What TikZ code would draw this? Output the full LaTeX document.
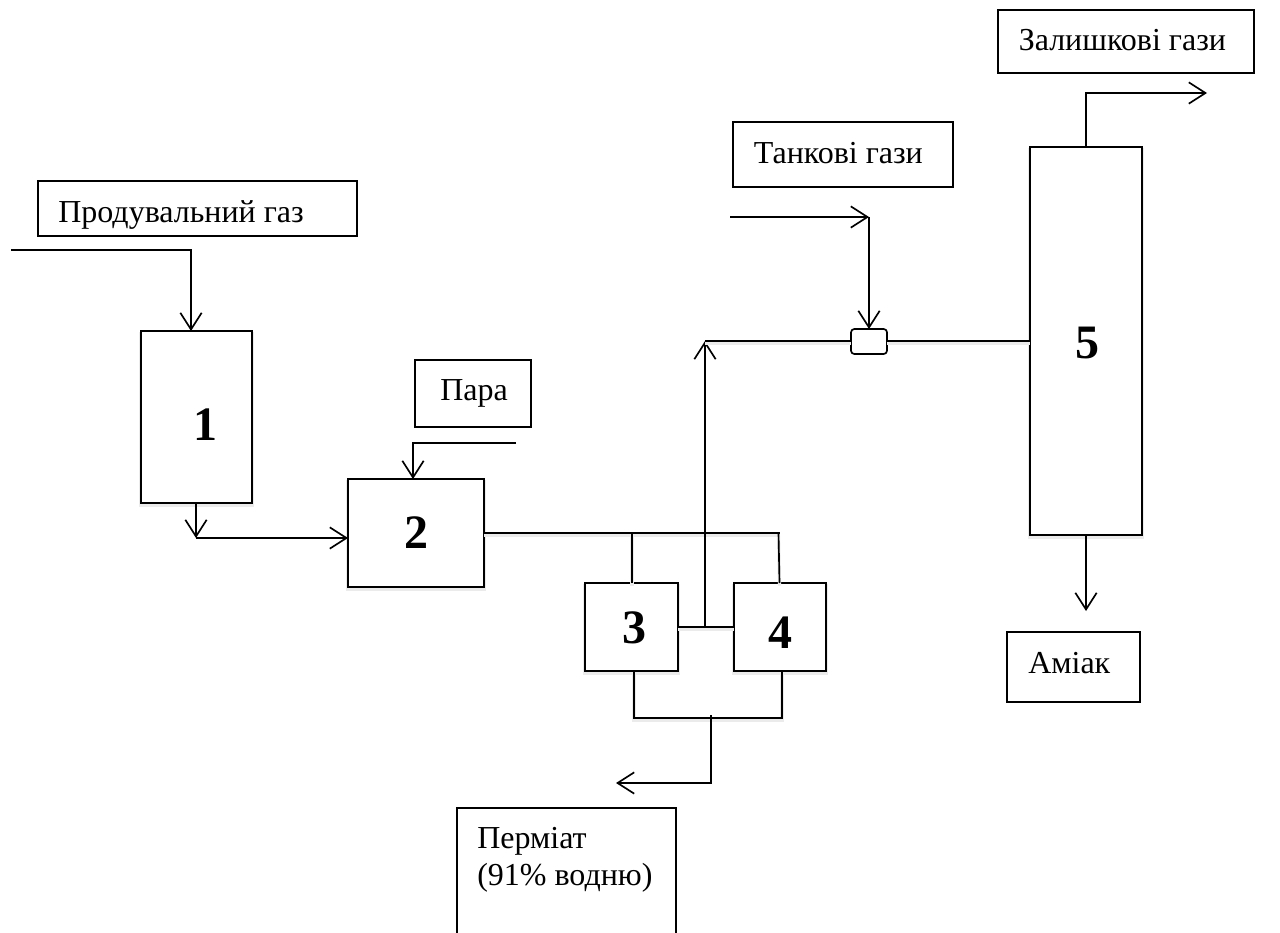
\documentclass[tikz,border=0pt]{standalone}
\usepackage{fontspec}
\setmainfont{Liberation Serif}
\usetikzlibrary{arrows.meta,fit}
\tikzset{
  x=0.75pt,y=-0.75pt,
  softshadow/.style={preaction={draw=black!8,line width=2.4pt,transform canvas={yshift=-2pt}}},
  box/.style={draw=black,line width=1.25pt,fill=white,inner sep=0pt,outer sep=0pt},
  unit/.style={box,softshadow},
  lbl/.style={anchor=base west,inner sep=0pt,font=\fontsize{24}{28}\selectfont},
  num/.style={anchor=center,inner sep=0pt,font=\fontsize{36}{40}\selectfont\bfseries},
  pipe/.style={draw=black,line width=1.25pt,line join=miter,softshadow},
  flow/.style={draw=black,line width=1.25pt,line join=miter,-{Straight Barb[length=12.5pt,width=16pt,line width=1.25pt]}}
}
\newcommand{\bx}[6][box]{\node[#1,fit={(#3,#4)(#5,#6)}] (#2) {};}
\begin{document}
\begin{tikzpicture}
\useasboundingbox (0,0) rectangle (1280,932);
\clip (0,0) rectangle (1280,932);
\fill[white] (0,0) rectangle (1280,932);
% boxes
\bx{bProd}{38}{181}{357}{236}
\bx{bPara}{415}{360}{531}{427}
\bx{bTank}{733}{122}{953}{187}
\bx{bRest}{998}{10}{1254}{73}
\bx{bAm}{1007}{632}{1140}{702}
\bx{bPerm}{457}{808}{676}{940}
\bx[unit]{b1}{141}{331}{252}{503}
\bx[unit]{b2}{348}{479}{484}{587}
\bx[unit]{b3}{585}{583}{678}{671}
\bx[unit]{b4}{734}{583}{826}{671}
\bx[unit]{b5}{1030}{147}{1142}{535}
\node[box,rounded corners=2.5pt,fit={(851,329)(887,354)}] (mix) {};
% coordinates
\coordinate (a) at (11,250);
\coordinate (a1) at (191,250);
\coordinate (c) at (196,538);
\coordinate (d) at (516,443);
\coordinate (d1) at (413,443);
\coordinate (m) at (780,533);
\coordinate (m3) at (632,533);
\coordinate (m4) at (778.5,533);
\coordinate (j) at (705,627);
\coordinate (t) at (705,341);
\coordinate (e) at (730,217);
\coordinate (e1) at (869,217);
\coordinate (g) at (1086,93);
\coordinate (g1) at (1207,93);
\coordinate (h) at (1086,611);
\coordinate (u3) at (634,718);
\coordinate (u4) at (782,718);
\coordinate (s) at (711,715);
\coordinate (s1) at (711,783);
\coordinate (s2) at (616,783);
% connectors
\draw[flow] (a) -- (a1) -- (a1 |- b1.north);
\draw[flow] (c |- b1.south) -- (c);
\draw[flow] (c) -- (c -| b2.west);
\draw[flow] (d) -- (d1) -- (d1 |- b2.north);
\draw[pipe] (b2.east |- m) -- (m);
\draw[pipe] (m3) -- (m3 |- b3.north);
\draw[pipe] (m4) -- (779.5,583);
\draw[pipe] (b3.east |- j) -- (b4.west |- j);
\draw[flow] (j) -- (t);
\draw[pipe] (t) -- (mix.west |- t);
\draw[pipe] (mix.east |- t) -- (b5.west |- t);
\draw[flow] (e) -- (e1);
\draw[flow] (e1) -- (e1 |- mix.north);
\draw[flow] (g |- b5.north) -- (g) -- (g1);
\draw[flow] (h |- b5.south) -- (h);
\draw[pipe] (u3 |- b3.south) -- (u3) -- (u4) -- (u4 |- b4.south);
\draw[flow] (s) -- (s1) -- (s2);
% labels
\node[lbl] (tProd) at (58,222) {Продувальний газ};
\node[lbl] (tPara) at (440,400) {Пара};
\node[lbl] (tTank) at (753.5,163) {Танкові гази};
\node[lbl] (tRest) at (1018.5,50) {Залишкові гази};
\node[lbl] (tAm) at (1028,673) {Аміак};
\node[lbl] (tPerm) at (477,848) {Перміат};
\node[lbl] (tPerm2) at (477,885) {(91\% водню)};
\node[num] (n1) at (205,425) {1};
\node[num] (n2) at (416,533) {2};
\node[num] (n3) at (634,628) {3};
\node[num] (n4) at (780,633) {4};
\node[num] (n5) at (1087,343) {5};
\end{tikzpicture}
\end{document}
